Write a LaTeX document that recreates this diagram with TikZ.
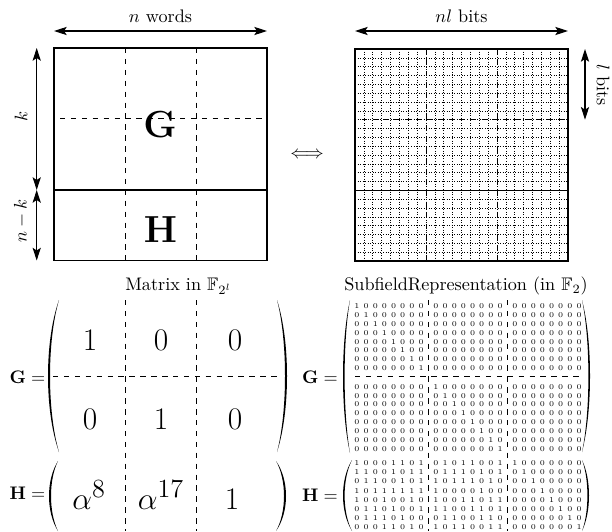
\documentclass[tikz,border=0pt]{standalone}
\usepackage{amssymb}
\usetikzlibrary{arrows.meta}
\tikzset{
 dbl/.style={{Stealth[length=7pt,width=4.5pt,inset=1.5pt]}-{Stealth[length=7pt,width=4.5pt,inset=1.5pt]}, line width=0.6pt},
 box/.style={line width=0.8pt},
 sep/.style={dashed, line width=0.55pt},
 gridl/.style={dash pattern=on 0.5pt off 0.9pt, line width=0.35pt, black},
 bit/.style={inner sep=0pt, font=\fontsize{4.1}{4.5}\selectfont},
 big/.style={inner sep=0pt, anchor=base, font=\fontsize{19}{22}\selectfont},
 lbl/.style={inner sep=0pt},
}
\newcommand{\myParen}[5]{% #1 x top, #2 y top, #3 y bottom, #4 x middle, #5 thickness (signed)
 \pgfmathsetmacro\pcA{(8*#4-2*#1)/6}
 \pgfmathsetmacro\pcB{(8*(#4+#5)-2*#1)/6}
 \pgfmathsetmacro\pyA{#2+0.27*(#3-#2)}
 \pgfmathsetmacro\pyB{#3-0.27*(#3-#2)}
 \fill (#1,#2) .. controls (\pcA,\pyA) and (\pcA,\pyB) .. (#1,#3)
   .. controls (\pcB,\pyB) and (\pcB,\pyA) .. cycle;
}
\begin{document}
\begin{tikzpicture}[x=0.55pt,y=-0.55pt]
\useasboundingbox (0,0) rectangle (612,531);

% ---------- top left ----------
\coordinate (nwL) at (54,31);
\coordinate (nwR) at (267,31);
\draw[dbl] (nwL) -- (nwR);
\node[lbl] (nwords) at (160.5,16) {$n$ words};

\draw[box] (54,48) rectangle (267,260.5);
\draw[box] (54,190) -- (267,190);
\draw[sep] (125.3,48) -- (125.3,260.5);
\draw[sep] (196,48) -- (196,260.5);
\draw[sep] (60,118.3) -- (267,118.3);
\node[lbl, font=\fontsize{21}{24}\selectfont] (GG) at (160,125) {$\mathbf{G}$};
\node[lbl, font=\fontsize{21}{24}\selectfont] (HH) at (160.5,230) {$\mathbf{H}$};

\coordinate (kT) at (36.7,48);
\coordinate (kM) at (36.7,190);
\coordinate (kB) at (36.7,260.5);
\draw[dbl] (kT) -- (kM);
\draw[dbl] (kM) -- (kB);
\node[lbl, rotate=90] (klab) at (21,116) {$k$};
\node[lbl, rotate=90] (nklab) at (21,221) {$n-k$};

\node[lbl] (equiv) at (307,155) {$\Longleftrightarrow$};

% ---------- top right ----------
\coordinate (nlL) at (355,31);
\coordinate (nlR) at (568,31);
\draw[dbl] (nlL) -- (nlR);
\node[lbl] (nlbits) at (461.5,16) {$nl$ bits};

\foreach \i in {1,...,23}{
  \draw[gridl] ({355+\i*213/24},49) -- ({355+\i*213/24},261);
  \draw[gridl] (355,{49+\i*212/24}) -- (568,{49+\i*212/24});
}
\draw[sep] (426,49) -- (426,261);
\draw[sep] (497,49) -- (497,261);
\draw[sep] (361.7,119.7) -- (568,119.7);
\draw[box] (355,49) rectangle (568,261);
\draw[box] (355,190.3) -- (568,190.3);

\coordinate (lT) at (585,49);
\coordinate (lB) at (585,119.7);
\draw[dbl] (lT) -- (lB);
\node[lbl, rotate=-90] (lbits) at (603,85) {$l$ bits};

% ---------- captions ----------
\node[lbl] (cap1) at (178.5,286) {Matrix in $\mathbb{F}_{2^l}$};
\node[lbl] (cap2) at (466,286) {SubfieldRepresentation (in $\mathbb{F}_2$)};

% ---------- bottom left ----------
\node[lbl] (Geq) at (27.5,377) {$\mathbf{G}=$};
\node[lbl] (Heq) at (27.5,493) {$\mathbf{H}=$};
\myParen{59}{300}{452}{48}{2}
\myParen{277}{300}{452}{287}{-2}
\myParen{58}{461}{531}{49}{2}
\myParen{276}{461}{531}{286}{-2}
\draw[sep] (125.3,300) -- (125.3,531);
\draw[sep] (196,300) -- (196,531);
\draw[sep] (53,376.7) -- (282,376.7);
\node[big] (g11) at (90,350) {$1$};
\node[big] (g12) at (161,350) {$0$};
\node[big] (g13) at (235,350) {$0$};
\node[big] (g21) at (90,429) {$0$};
\node[big] (g22) at (161,429) {$1$};
\node[big] (g23) at (235,429) {$0$};
\node[big] (h1) at (89,509) {$\alpha^8$};
\node[big] (h2) at (161,509) {$\alpha^{17}$};
\node[big] (h3) at (232,509) {$1$};

% ---------- bottom right ----------
\node[lbl] (Geq2) at (320,377) {$\mathbf{G}=$};
\node[lbl] (Heq2) at (320,495) {$\mathbf{H}=$};
\myParen{350}{300}{453}{343}{1.6}
\myParen{582}{300}{452}{590}{-1.6}
\myParen{352}{460}{531}{343}{1.6}
\myParen{582}{460}{531}{589}{-1.6}
\draw[sep] (428,300) -- (428,531);
\draw[sep] (507,300) -- (507,531);
\draw[sep] (355,376.7) -- (582,376.7);

\foreach \i in {0,...,15}{
  \foreach \c in {0,...,23}{
    \pgfmathsetmacro\bx{357+79*floor(\c/8)+9.15*mod(\c,8)}
    \pgfmathsetmacro\by{306+8.9*\i+9.5*(\i>7)}
    \node[bit] (g-\i-\c) at (\bx,\by) {\ifnum\c=\i\relax 1\else 0\fi};
  }
}
\foreach \r [count=\i from 0] in {
 {1,0,0,0,1,1,0,1,0,1,0,1,1,0,0,1},
 {1,1,0,0,1,0,1,1,0,1,1,1,0,1,0,1},
 {0,1,1,0,0,1,0,1,1,0,1,1,1,0,1,0},
 {1,0,1,1,1,1,1,1,1,0,0,0,0,1,0,0},
 {1,0,0,1,0,0,1,0,1,0,0,1,1,0,1,1},
 {0,1,1,0,1,0,0,1,1,1,0,0,1,1,0,1},
 {0,1,1,1,0,1,0,0,0,1,1,0,0,1,1,0},
 {0,0,0,1,1,0,1,0,1,0,1,1,0,0,1,1}}{
  \foreach \d [count=\c from 0] in \r {
    \pgfmathsetmacro\bx{357+79*floor(\c/8)+9.15*mod(\c,8)}
    \pgfmathsetmacro\by{463.3+9.1*\i}
    \node[bit] (h-\i-\c) at (\bx,\by) {\d};
  }
}
\foreach \i in {0,...,7}{
  \foreach \c in {16,...,23}{
    \pgfmathsetmacro\bx{357+158+9.15*(\c-16)}
    \pgfmathsetmacro\by{463.3+9.1*\i}
    \node[bit] (h-\i-\c) at (\bx,\by) {\ifnum\numexpr\c-16\relax=\i\relax 1\else 0\fi};
  }
}
\end{tikzpicture}
\end{document}
